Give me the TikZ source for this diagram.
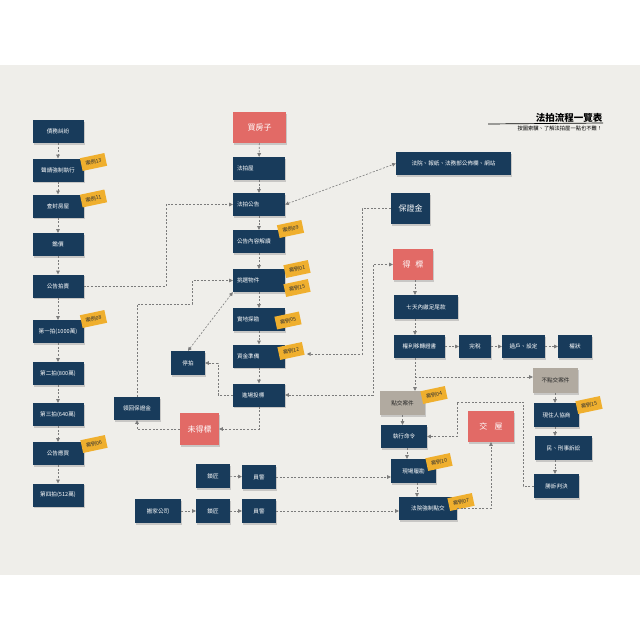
\documentclass[tikz,border=0pt]{standalone}
\usepackage{fontspec}
\newfontfamily\cjk{Noto Sans CJK TC}
\usetikzlibrary{arrows.meta,shadows}
\definecolor{navy}{HTML}{183B5B}
\definecolor{redb}{HTML}{E26A66}
\definecolor{grayb}{HTML}{B1AAA0}
\definecolor{tagc}{HTML}{EFAF2E}
\definecolor{band}{HTML}{EFEEEA}
\definecolor{lineg}{HTML}{7B7B7B}
\begin{document}
\begin{tikzpicture}[x=1pt,y=-1pt,
 box/.style={inner sep=1pt, font=\cjk\fontsize{5.6}{6.5}\selectfont, drop shadow={shadow xshift=1.2pt,shadow yshift=-1.6pt,opacity=0.35}},
 nb/.style={box, fill=navy, text=white},
 rb/.style={box, fill=redb, text=white, font=\cjk\fontsize{8}{9}\selectfont},
 gb/.style={box, fill=grayb, text=black!85},
 big/.style={font=\cjk\fontsize{8}{9}\selectfont},
 wh/.style 2 args={minimum width=#1pt, minimum height=#2pt},
 ml/.style={text width=44pt, align=left, inner xsep=4pt, minimum height=23pt},
 tag/.style={fill=tagc, text=black!80, font=\cjk\fontsize{5.2}{6}\selectfont, rotate=12, minimum width=25pt, minimum height=13pt, inner sep=0.5pt},
 con/.style={draw=lineg, line width=0.6pt, dash pattern=on 2pt off 1.6pt, -{Triangle[length=3.6pt,width=3.6pt]}},
 conb/.style={con, {Triangle[length=3.6pt,width=3.6pt]}-{Triangle[length=3.6pt,width=3.6pt]}},
]
\useasboundingbox (0,0) rectangle (640,640);
\fill[white] (0,0) rectangle (640,640);
\fill[band] (0,65) rectangle (640,575);

% title
\node[anchor=south east, font=\cjk\bfseries\fontsize{9.5}{10}\selectfont, inner sep=0.5pt] (T) at (603,123) {法拍流程一覽表};
\coordinate (u) at (488,124);
\draw[line width=0.7pt] (u) -- (T.south east);
\node[anchor=north east, font=\cjk\fontsize{5.3}{6}\selectfont, inner sep=0.5pt] (ST) at (603,125.5) {按圖索驥、了解法拍屋一點也不難！};

% left column
\node[nb,wh={51}{23}] (L1) at (58,131.5) {債務糾紛};
\node[nb,wh={51}{23}] (L2) at (58,170) {聲請強制執行};
\node[nb,wh={51}{23}] (L3) at (58,206) {查封房屋};
\node[nb,wh={51}{23}] (L4) at (58,244.5) {鑑價};
\node[nb,wh={51}{23}] (L5) at (58,286) {公告拍賣};
\node[nb,wh={51}{23}] (L6) at (58,331.5) {第一拍(1000萬)};
\node[nb,wh={51}{23}] (L7) at (58,373.5) {第二拍(800萬)};
\node[nb,wh={51}{23}] (L8) at (58,414.5) {第三拍(640萬)};
\node[nb,wh={51}{23}] (L9) at (58,453.5) {公告應買};
\node[nb,wh={51}{23}] (L10) at (58,495) {第四拍(512萬)};

% middle column
\node[rb,wh={53}{31}] (M1) at (259.5,127.5) {買房子};
\node[nb,ml] (M2) at (259,168.5) {法拍屋};
\node[nb,ml] (M3) at (259,204.5) {法拍公告};
\node[nb,ml] (M4) at (259,241.5) {公告內容解讀};
\node[nb,ml] (M5) at (259,280.5) {挑選物件};
\node[nb,ml] (M6) at (259,319.5) {實地探勘};
\node[nb,ml] (M7) at (259,356) {資金準備};
\node[nb,ml] (M8) at (259,395) {\hspace*{5pt}進場投標};
\node[nb,wh={34}{24}] (S) at (188,363) {停拍};
\node[nb,wh={46}{23}] (M10) at (137,408.5) {領回保證金};
\node[rb,wh={39}{32}] (M11) at (199.5,429) {未得標};

% bottom rows
\node[nb,wh={34}{24}] (K1) at (213,476) {鎖匠};
\node[nb,wh={34}{24}] (Q1) at (259,477) {員警};
\node[nb,wh={46}{24}] (B) at (158,511) {搬家公司};
\node[nb,wh={34}{24}] (K2) at (213,511) {鎖匠};
\node[nb,wh={34}{24}] (Q2) at (259,511) {員警};

% right side
\node[nb,wh={115}{23}] (R0) at (453.5,163.5) {法院、報紙、法務部公佈欄、網站};
\node[nb,big,wh={39}{31}] (G) at (410.5,208.5) {保證金};
\node[rb,wh={40}{31}] (W) at (413,264.5) {得\hspace{0.6em}標};
\node[nb,wh={64}{24}] (R1) at (426,307) {七天內繳足尾款};
\node[nb,wh={51}{23}] (R2) at (419.5,346.5) {權利移轉證書};
\node[nb,wh={32}{23}] (R3) at (475,346.5) {完稅};
\node[nb,wh={43}{23}] (R4) at (523.5,346.5) {過戶、設定};
\node[nb,wh={34}{23}] (R5) at (575,346.5) {權狀};
\node[gb,wh={45}{24}] (P1) at (402.5,403) {點交案件};
\node[gb,wh={45}{25}] (N0) at (555.5,380.5) {不點交案件};
\node[nb,wh={46}{23}] (E) at (404,436.5) {執行命令};
\node[rb,wh={46}{31}] (H) at (491,426.5) {交\hspace{0.9em}屋};
\node[nb,wh={45}{24}] (F) at (413.5,471) {現場履勘};
\node[nb,wh={58}{23}] (C) at (428,508.5) {法院強制點交};
\node[nb,wh={45}{24}] (V1) at (556.5,415) {現住人協商};
\node[nb,wh={57}{24}] (V2) at (563.5,448) {民、刑事訴訟};
\node[nb,wh={45}{24}] (V3) at (556.5,486) {勝訴判決};

% tags
\node[tag] (t13) at (93.5,162) {案例13};
\node[tag] (t11) at (93.5,198.5) {案例11};
\node[tag] (t08) at (93.5,319) {案例08};
\node[tag] (t06) at (94,444) {案例06};
\node[tag] (t09) at (290.5,229) {案例09};
\node[tag] (t01) at (297,269) {案例01};
\node[tag] (t15a) at (297,288) {案例15};
\node[tag] (t05) at (288,320.5) {案例05};
\node[tag] (t12) at (291,351) {案例12};
\node[tag] (t04) at (434,395) {案例04};
\node[tag] (t10) at (439,462) {案例10};
\node[tag] (t07) at (461,502) {案例07};
\node[tag] (t15b) at (589,405) {案例15};

% left column connectors
\draw[con] (L1) -- (L2);
\draw[con] (L2) -- (L3);
\draw[con] (L3) -- (L4);
\draw[con] (L4) -- (L5);
\draw[con] (L5) -- (L6);
\draw[con] (L6) -- (L7);
\draw[con] (L7) -- (L8);
\draw[con] (L8) -- (L9);
\draw[con] (L9) -- (L10);
\coordinate (j1) at (166,286);
\draw[con] (L5) -- (j1) |- (M3);

% middle connectors
\draw[con] (M1) -- (M2);
\draw[con] (M2) -- (M3);
\draw[con] (M3) -- (M4);
\draw[con] (M4) -- (M5);
\draw[con] (M5) -- (M6);
\draw[con] (M6) -- (M7);
\draw[con] (M7) -- (M8);
\draw[con] (M8) |- (M11);
\draw[con] (M11) -| (M10);
\coordinate (a1) at (137,304);
\coordinate (a2) at (192,304);
\coordinate (a3) at (192,280.5);
\draw[con] (M10) -- (a1) -- (a2) -- (a3) -- (M5);
\coordinate (b1) at (218,395);
\coordinate (b2) at (218,363);
\draw[con] (M8) -- (b1) -- (b2) -- (S);
\draw[conb] (S.north) -- (M5.south west);
\draw[conb] (M3.east) -- (R0.west);
\coordinate (c1) at (362,208.5);
\coordinate (c2) at (362,354);
\coordinate (c3) at (307,354);
\draw[con] (G) -- (c1) -- (c2) -- (c3);
\coordinate (d1) at (373,395);
\draw[conb] (M8) -- (d1) |- (W);

% right connectors
\coordinate (x1) at (415,0);
\draw[con] (W.south -| x1) -- (R1.north -| x1);
\draw[con] (R1.south -| x1) -- (R2.north -| x1);
\draw[con] (R2) -- (R3);
\draw[con] (R3) -- (R4);
\draw[con] (R4) -- (R5);
\draw[con] (R2.south -| x1) -- (P1.north -| x1);
\coordinate (e1) at (415,377);
\draw[con] (e1) -- (e1 -| N0.west);
\draw[con] (P1) -- (P1 |- E.north);
\coordinate (x2) at (407,0);
\draw[con] (E.south -| x2) -- (F.north -| x2);
\coordinate (x3) at (417,0);
\draw[con] (F.south -| x3) -- (C.north -| x3);
\draw[con] (C) -| (H);
\coordinate (g1) at (523,486);
\coordinate (g2) at (523,402);
\coordinate (g3) at (457,402);
\coordinate (g4) at (457,436.5);
\draw[con] (V3) -- (g1) -- (g2) -- (g3) -- (g4) -- (E);
\coordinate (x4) at (555,0);
\draw[con] (N0.south -| x4) -- (V1.north -| x4);
\draw[con] (V1.south -| x4) -- (V2.north -| x4);
\draw[con] (V2.south -| x4) -- (V3.north -| x4);

% bottom connectors
\draw[con] (K1) -- (Q1);
\draw[con] (Q1.east) -- (Q1.east -| F.west);
\draw[con] (B) -- (K2);
\draw[con] (K2) -- (Q2);
\draw[con] (Q2) -- (Q2 -| C.west);
\end{tikzpicture}
\end{document}
